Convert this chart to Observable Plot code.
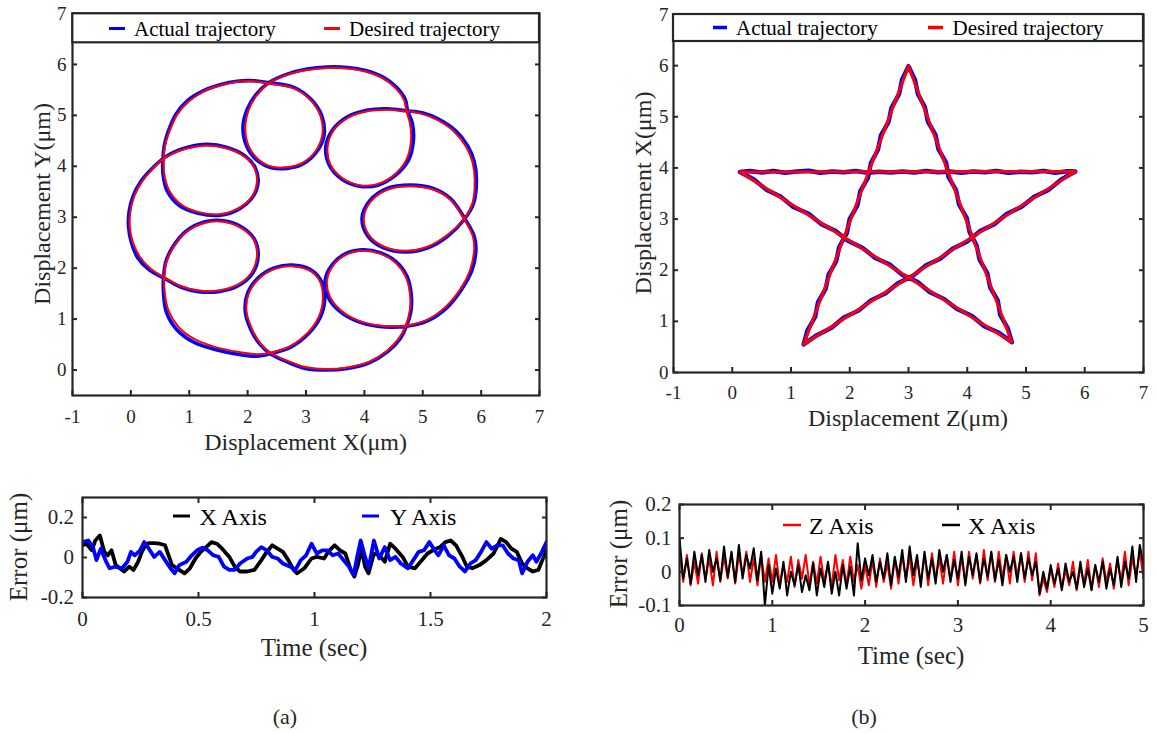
<!DOCTYPE html>
<html><head><meta charset="utf-8">
<script src="https://cdn.jsdelivr.net/npm/d3@7"></script>
<script src="https://cdn.jsdelivr.net/npm/@observablehq/plot@0.6"></script>
<style>
body{margin:0;background:#fff;}
#fig{position:relative;width:1157px;height:733px;overflow:hidden;background:#fff;font-family:"Liberation Serif","Times New Roman",serif;color:#262626;}
</style></head><body><div id="fig"></div>
<script>
// ---------- DATA ----------
// (a) top: flower trajectory, [x, y] in µm
const flowerDesired = [
[2.36,5.63],[2.11,5.67],[1.82,5.66],[1.53,5.59],[1.25,5.47],[0.99,5.27],[0.79,5.01],[0.65,4.65],[0.58,4.39],[0.56,4.15],
[0.57,3.86],[0.65,3.54],[0.85,3.26],[1.16,3.10],[1.53,3.06],[1.85,3.18],[2.08,3.41],[2.16,3.70],[2.12,3.96],[1.95,4.19],[1.65,4.35],[1.30,4.41],[0.96,4.35],[0.73,4.26],[0.56,4.15],
[0.36,3.94],[0.19,3.70],[0.06,3.42],[-0.01,3.11],[-0.02,2.82],[0.03,2.52],[0.15,2.23],[0.33,2.00],[0.57,1.82],
[0.85,1.65],[1.16,1.56],[1.50,1.56],[1.82,1.67],[2.06,1.90],[2.16,2.23],[2.11,2.55],[1.90,2.78],[1.59,2.91],[1.28,2.89],[0.96,2.72],[0.73,2.42],[0.61,2.13],[0.57,1.82],
[0.58,1.51],[0.65,1.15],[0.82,0.84],[1.10,0.60],[1.48,0.44],[1.88,0.35],[2.16,0.31],[2.39,0.34],
[2.73,0.47],[3.02,0.72],[3.22,1.05],[3.29,1.41],[3.23,1.76],[3.05,1.96],[2.76,2.04],[2.48,1.99],[2.22,1.82],[2.02,1.51],[1.98,1.15],[2.08,0.79],[2.22,0.52],[2.39,0.34],
[2.68,0.18],[2.99,0.06],[3.34,0.02],[3.71,0.05],[4.08,0.16],[4.39,0.38],[4.59,0.62],[4.71,0.87],
[4.78,1.18],[4.78,1.51],[4.71,1.83],[4.54,2.10],[4.28,2.28],[3.96,2.34],[3.68,2.26],[3.47,2.06],[3.36,1.77],[3.41,1.44],[3.59,1.18],[3.88,0.98],[4.22,0.88],[4.71,0.87],
[5.08,0.99],[5.39,1.24],[5.65,1.60],[5.81,1.96],[5.88,2.36],[5.86,2.62],[5.71,2.97],
[5.48,3.34],[5.19,3.54],[4.79,3.61],[4.39,3.54],[4.11,3.31],[3.99,2.98],[4.08,2.65],[4.34,2.42],[4.71,2.34],[5.08,2.42],[5.42,2.65],[5.71,2.97],
[5.85,3.27],[5.89,3.73],[5.85,4.09],[5.74,4.39],[5.54,4.68],[5.25,4.91],[4.99,5.03],[4.72,5.08],
[4.39,5.11],[4.05,5.08],[3.73,4.96],[3.48,4.72],[3.37,4.39],[3.42,4.03],[3.62,3.77],[3.91,3.63],[4.22,3.65],[4.51,3.83],[4.72,4.13],[4.80,4.52],[4.78,4.85],[4.72,5.08],
[4.68,5.30],[4.54,5.53],[4.31,5.73],[4.02,5.86],[3.71,5.92],[3.36,5.93],[3.02,5.89],[2.68,5.80],[2.36,5.63],
[2.16,5.40],[2.02,5.11],[1.96,4.75],[2.02,4.39],[2.19,4.13],[2.42,3.99],[2.68,3.98],[2.93,4.06],[3.16,4.29],[3.28,4.62],[3.25,4.98],[3.08,5.30],[2.79,5.53],[2.36,5.63],[2.11,5.67]
];
const flowerActual = [
[2.36,5.64],[2.11,5.68],[1.82,5.67],[1.53,5.60],[1.24,5.48],[0.97,5.29],[0.77,5.02],[0.63,4.65],[0.57,4.39],[0.55,4.15],
[0.55,3.86],[0.62,3.52],[0.83,3.23],[1.15,3.08],[1.53,3.04],[1.85,3.16],[2.09,3.40],[2.18,3.70],[2.13,3.97],[1.96,4.20],[1.65,4.37],[1.30,4.43],[0.96,4.37],[0.72,4.27],[0.55,4.15],
[0.35,3.94],[0.17,3.70],[0.04,3.42],[-0.03,3.11],[-0.04,2.82],[0.01,2.50],[0.12,2.20],[0.31,1.97],[0.56,1.81],
[0.85,1.63],[1.16,1.54],[1.50,1.54],[1.83,1.65],[2.08,1.89],[2.18,2.23],[2.12,2.56],[1.91,2.80],[1.59,2.93],[1.27,2.91],[0.95,2.73],[0.72,2.42],[0.60,2.13],[0.56,1.81],
[0.56,1.50],[0.61,1.13],[0.78,0.80],[1.07,0.55],[1.46,0.40],[1.88,0.30],[2.16,0.27],[2.39,0.32],
[2.74,0.45],[3.04,0.71],[3.25,1.05],[3.32,1.41],[3.25,1.77],[3.06,1.98],[2.76,2.06],[2.47,2.01],[2.20,1.83],[2.00,1.51],[1.96,1.15],[2.06,0.78],[2.21,0.51],[2.39,0.32],
[2.68,0.16],[2.99,0.03],[3.34,0.00],[3.71,0.03],[4.08,0.14],[4.40,0.36],[4.61,0.61],[4.72,0.86],
[4.80,1.18],[4.80,1.51],[4.73,1.84],[4.55,2.12],[4.28,2.30],[3.96,2.36],[3.67,2.28],[3.45,2.07],[3.33,1.77],[3.38,1.43],[3.57,1.16],[3.87,0.96],[4.22,0.86],[4.72,0.86],
[5.09,0.97],[5.41,1.22],[5.67,1.59],[5.84,1.95],[5.91,2.36],[5.88,2.63],[5.72,2.97],
[5.48,3.36],[5.19,3.56],[4.79,3.63],[4.38,3.56],[4.09,3.32],[3.96,2.98],[4.06,2.63],[4.33,2.40],[4.71,2.32],[5.09,2.40],[5.43,2.63],[5.72,2.97],
[5.87,3.27],[5.92,3.73],[5.88,4.10],[5.77,4.40],[5.56,4.70],[5.26,4.93],[4.99,5.05],[4.72,5.09],
[4.39,5.13],[4.04,5.10],[3.71,4.97],[3.46,4.72],[3.34,4.39],[3.40,4.02],[3.61,3.75],[3.91,3.61],[4.23,3.63],[4.53,3.82],[4.76,4.13],[4.84,4.52],[4.82,4.85],[4.74,5.09],
[4.70,5.31],[4.55,5.55],[4.32,5.75],[4.02,5.88],[3.71,5.94],[3.36,5.95],[3.02,5.91],[2.68,5.81],[2.36,5.64],
[2.14,5.40],[1.99,5.11],[1.92,4.75],[1.99,4.38],[2.17,4.11],[2.41,3.97],[2.68,3.96],[2.94,4.04],[3.18,4.28],[3.31,4.62],[3.27,4.99],[3.09,5.31],[2.79,5.55],[2.36,5.64],[2.11,5.68]
];

// (b) top: star trajectory, [Z, X] in µm
const starDesired = [[0.13,3.92],[5.84,3.93],[1.215,0.55],[3.0,5.99],[4.76,0.59],[0.13,3.92]];
const starActual = [
[0.13,3.92],[0.30,3.94],[0.50,3.91],[0.70,3.94],[0.90,3.905],[1.10,3.93],[1.30,3.945],[1.50,3.905],[1.70,3.93],[1.90,3.915],[2.10,3.94],[2.30,3.905],[2.50,3.925],[2.70,3.91],[2.90,3.93],[3.10,3.91],[3.30,3.94],[3.50,3.915],[3.70,3.93],[3.90,3.905],[4.10,3.93],[4.30,3.915],[4.50,3.94],[4.70,3.905],[4.90,3.925],[5.10,3.915],[5.30,3.94],[5.50,3.905],[5.70,3.935],[5.84,3.93],
[5.60,3.775],[5.39,3.575],[5.14,3.435],[4.925,3.24],[4.67,3.10],[4.46,2.90],[4.21,2.76],[4.00,2.56],[3.75,2.42],[3.54,2.225],[3.29,2.09],[3.075,1.89],[2.82,1.745],[2.61,1.55],[2.36,1.41],[2.15,1.21],[1.90,1.075],[1.69,0.875],[1.44,0.73],[1.215,0.55],
[1.28,0.825],[1.41,1.085],[1.46,1.375],[1.59,1.635],[1.64,1.915],[1.77,2.175],[1.82,2.455],[1.95,2.725],[2.00,3.005],[2.13,3.265],[2.18,3.545],[2.31,3.805],[2.36,4.095],[2.48,4.355],[2.53,4.635],[2.66,4.895],[2.71,5.175],[2.84,5.445],[2.89,5.725],[3.0,5.99],
[3.11,5.725],[3.16,5.445],[3.28,5.185],[3.33,4.905],[3.46,4.645],[3.51,4.365],[3.64,4.105],[3.68,3.825],[3.81,3.565],[3.86,3.285],[3.99,3.025],[4.04,2.745],[4.16,2.485],[4.21,2.205],[4.34,1.945],[4.39,1.665],[4.52,1.405],[4.56,1.125],[4.69,0.865],[4.76,0.59],
[4.54,0.775],[4.29,0.905],[4.08,1.105],[3.82,1.245],[3.61,1.435],[3.36,1.575],[3.15,1.775],[2.90,1.905],[2.69,2.105],[2.435,2.24],[2.22,2.435],[1.97,2.575],[1.76,2.765],[1.51,2.905],[1.30,3.105],[1.04,3.235],[0.83,3.435],[0.58,3.575],[0.37,3.775],[0.13,3.92]
];

// (a) bottom: tracking error, time (s) and error (µm)
const errAXTime = [0,0.017,0.040,0.055,0.075,0.094,0.109,0.125,0.143,0.179,0.202,0.220,0.240,0.256,0.271,0.286,0.309,0.333,0.356,0.371,0.386,0.417,0.440,0.463,0.487,0.510,0.533,0.556,0.579,0.602,0.633,0.656,0.679,0.710,0.741,0.771,0.794,0.818,0.841,0.864,0.887,0.910,0.925,0.956,0.987,1.010,1.041,1.064,1.087,1.110,1.133,1.156,1.172,1.187,1.202,1.218,1.233,1.256,1.279,1.303,1.326,1.349,1.380,1.403,1.433,1.457,1.487,1.510,1.541,1.564,1.587,1.610,1.634,1.657,1.680,1.711,1.741,1.772,1.803,1.826,1.849,1.872,1.895,1.918,1.941,1.965,1.988,2.0];
const errAXValue = [0.061,0.069,0.036,0.085,0.110,0.028,0.011,0.036,-0.038,-0.070,-0.046,-0.062,-0.021,0.028,0.061,0.072,0.072,0.069,0.061,0.011,-0.038,-0.062,-0.079,-0.054,-0.005,0.028,0.052,0.077,0.069,0.044,0.003,-0.046,-0.070,-0.070,-0.062,-0.013,0.028,0.061,0.044,0.028,-0.013,-0.062,-0.079,-0.054,-0.005,0.003,-0.005,0.036,0.061,0.036,0.020,-0.062,-0.095,-0.038,0.044,-0.046,-0.079,0.020,0.011,-0.021,0.069,0.044,0.003,-0.046,-0.054,-0.021,0.020,0.036,0.052,0.077,0.085,0.061,0.011,-0.046,-0.054,-0.038,-0.013,0.020,0.093,0.077,0.044,0.028,-0.030,-0.054,-0.070,-0.062,0.003,0.036];
const errAYTime = [0,0.025,0.045,0.060,0.079,0.102,0.117,0.140,0.171,0.194,0.209,0.225,0.248,0.266,0.286,0.309,0.333,0.356,0.379,0.397,0.417,0.448,0.471,0.494,0.517,0.540,0.564,0.587,0.610,0.633,0.656,0.679,0.710,0.733,0.748,0.771,0.794,0.818,0.841,0.864,0.895,0.918,0.941,0.964,0.987,1.010,1.033,1.056,1.079,1.102,1.125,1.149,1.169,1.184,1.199,1.218,1.233,1.256,1.279,1.303,1.326,1.349,1.372,1.403,1.426,1.449,1.472,1.495,1.518,1.534,1.557,1.580,1.603,1.626,1.649,1.672,1.695,1.718,1.741,1.764,1.788,1.811,1.834,1.857,1.880,1.895,1.918,1.941,1.957,1.980,2.0];
const errAYValue = [0.077,0.085,0.052,-0.013,0.044,-0.021,-0.054,-0.046,-0.054,-0.021,0.028,0.011,0.036,0.077,0.044,0.003,0.028,-0.013,-0.054,-0.079,-0.038,-0.021,0.011,0.036,0.049,0.036,0.011,0.003,-0.046,-0.062,-0.062,-0.030,-0.005,0.003,0.028,0.052,0.036,0.003,-0.005,-0.030,-0.046,-0.062,-0.013,0.011,0.069,0.020,0.036,0.036,0.011,0.020,-0.013,-0.046,-0.087,0.003,0.085,0.003,-0.054,0.085,-0.005,0.052,-0.013,0.003,-0.030,-0.054,-0.013,0.028,0.036,0.077,0.036,0.011,0.061,0.011,-0.005,-0.046,-0.070,-0.030,-0.013,0.028,0.077,0.044,0.061,0.061,0.020,-0.005,-0.013,-0.079,-0.021,0.011,-0.021,0.028,0.077];

// (b) bottom: tracking error sampled every errBStep seconds (µm)
const errBStep = 0.04;
const errBZ = [0.06,-0.03,0.05,-0.04,0.03,-0.035,0.055,-0.02,0.04,-0.04,0.06,-0.03,0.045,-0.02,0.055,-0.035,0.05,-0.01,0.06,-0.03,0.04,-0.04,0.05,-0.03,
0.04,-0.03,0.05,-0.04,0.02,-0.03,0.045,-0.045,0.035,-0.02,0.05,-0.04,0.03,-0.035,0.045,-0.03,0.025,-0.045,0.05,-0.025,0.035,-0.04,0.045,-0.03,0.02,
-0.05,0.02,-0.04,0.035,-0.045,0.04,-0.03,0.025,-0.05,0.04,-0.035,0.05,-0.02,0.045,-0.04,0.035,-0.03,0.05,-0.04,0.055,-0.02,0.04,-0.035,0.05,-0.025,0.06,-0.04,0.045,-0.03,0.06,-0.02,0.05,-0.035,0.065,-0.025,0.055,-0.03,0.06,-0.02,0.05,-0.035,0.06,-0.015,0.055,-0.03,0.06,-0.025,0.055,-0.07,
-0.02,-0.06,0.01,-0.045,0.025,-0.05,0.005,-0.04,0.03,-0.055,0.015,-0.035,0.035,-0.05,0.02,-0.045,0.04,-0.03,0.025,-0.05,0.035,-0.03,0.06,-0.04,0.04,-0.01,0.06,-0.02];
const errBX = [0.10,-0.02,0.04,-0.035,0.06,-0.01,0.05,-0.03,0.065,0.00,0.04,-0.025,0.075,-0.015,0.06,-0.03,0.08,-0.02,0.05,0.01,0.07,-0.025,0.06,-0.10,
0.02,-0.065,0.01,-0.05,0.03,-0.07,0.00,-0.04,0.02,-0.06,-0.01,-0.055,0.025,-0.07,0.01,-0.045,0.03,-0.065,0.00,-0.07,0.02,-0.05,0.015,-0.07,0.085,
-0.025,0.04,-0.01,0.05,-0.03,0.03,-0.02,0.055,-0.04,0.045,-0.015,0.065,-0.03,0.075,-0.01,0.05,-0.045,0.06,-0.02,0.04,-0.035,0.065,0.00,0.05,-0.03,0.035,-0.02,0.06,-0.04,0.045,-0.01,0.055,-0.03,0.04,-0.015,0.06,-0.025,0.035,-0.04,0.05,0.00,0.045,-0.03,0.055,-0.02,0.04,-0.01,0.03,-0.065,
0.00,-0.05,0.02,-0.035,0.01,-0.055,0.025,-0.03,0.00,-0.05,0.03,-0.045,0.01,-0.055,0.02,-0.03,0.03,-0.05,0.01,-0.04,0.045,-0.045,0.03,-0.02,0.075,-0.03,0.08,0.02];

// tick values
const ticksTopX = [-1,0,1,2,3,4,5,6,7];
const ticksTopY = [0,1,2,3,4,5,6,7];
const ticksAErrX = [0,0.5,1,1.5,2];
const ticksAErrY = [-0.2,0,0.2];
const ticksBErrX = [0,1,2,3,4,5];
const ticksBErrY = [-0.1,0,0.1,0.2];

// ---------- DRAW ----------
const FONT = '"Liberation Serif","Times New Roman",serif';
const INK = "#262626";
const fig = document.getElementById("fig");
const fmt = d => String(d);

function axes(xT, yT, xPad, yPad, fs, top) {
  const m = [
    Plot.axisX({anchor: "bottom", ticks: xT, tickSize: -5, tickPadding: xPad, tickFormat: fmt, label: null, fontSize: fs, strokeWidth: 2}),
    Plot.axisY({anchor: "left", ticks: yT, tickSize: -5, tickPadding: yPad, tickFormat: fmt, label: null, fontSize: fs, strokeWidth: 2}),
    Plot.axisY({anchor: "right", ticks: yT, tickSize: -5, tickFormat: () => "", label: null, strokeWidth: 2})
  ];
  if (top) m.push(Plot.axisX({anchor: "top", ticks: xT, tickSize: -5, tickFormat: () => "", label: null, strokeWidth: 2}));
  return m;
}
function place(svg, left, top) {
  svg.style.position = "absolute";
  svg.style.left = left + "px";
  svg.style.top = top + "px";
  svg.style.maxWidth = "none";
  fig.appendChild(svg);
}
const baseStyle = {fontFamily: FONT, color: INK, background: "transparent", overflow: "visible"};
const pt = {x: d => d[0], y: d => d[1]};

// Panel (a) top
place(Plot.plot({
  width: 560, height: 470, marginLeft: 72, marginRight: 21, marginTop: 13, marginBottom: 75,
  x: {domain: [-1, 7]}, y: {domain: [-0.5, 7]}, style: baseStyle,
  marks: [
    Plot.line(flowerActual, {...pt, stroke: "#0000ff", strokeWidth: 3.6, curve: "catmull-rom"}),
    Plot.line(flowerDesired, {...pt, stroke: "#ff0000", strokeWidth: 2, curve: "catmull-rom"}),
    ...axes(ticksTopX, ticksTopY, 19, 11, 19, false),
    Plot.frame({stroke: INK, strokeWidth: 2.2})
  ]
}), 0, 0);

// Panel (b) top
place(Plot.plot({
  width: 557, height: 470, marginLeft: 73, marginRight: 14, marginTop: 14, marginBottom: 98,
  x: {domain: [-1, 7]}, y: {domain: [0, 7]}, style: baseStyle,
  marks: [
    Plot.line(starActual, {...pt, stroke: "#0000ff", strokeWidth: 4.4}),
    Plot.line(starDesired, {...pt, stroke: "#ff0000", strokeWidth: 3}),
    ...axes(ticksTopX, ticksTopY, 17.5, 10, 19, false),
    Plot.frame({stroke: INK, strokeWidth: 2.2})
  ]
}), 600, 0);

// Panel (a) bottom
const errAX = errAXTime.map((t, i) => ({t, v: errAXValue[i]}));
const errAY = errAYTime.map((t, i) => ({t, v: errAYValue[i]}));
place(Plot.plot({
  width: 560, height: 200, marginLeft: 82, marginRight: 14, marginTop: 27, marginBottom: 73,
  x: {domain: [0, 2]}, y: {domain: [-0.2, 0.3]}, style: baseStyle,
  marks: [
    Plot.line(errAX, {x: "t", y: "v", stroke: "#000000", strokeWidth: 3.8, clip: true}),
    Plot.line(errAY, {x: "t", y: "v", stroke: "#0000ff", strokeWidth: 3.8, clip: true}),
    ...axes(ticksAErrX, ticksAErrY, 19, 13.5, 21, true),
    Plot.frame({stroke: INK, strokeWidth: 2.2})
  ]
}), 0, 470);

// Panel (b) bottom
const errBZData = errBZ.map((v, i) => ({t: i * errBStep, v}));
const errBXData = errBX.map((v, i) => ({t: i * errBStep, v}));
place(Plot.plot({
  width: 567, height: 200, marginLeft: 89, marginRight: 14, marginTop: 34, marginBottom: 65,
  x: {domain: [0, 5]}, y: {domain: [-0.1, 0.2]}, style: baseStyle,
  marks: [
    Plot.line(errBZData, {x: "t", y: "v", stroke: "#ff0000", strokeWidth: 2, clip: true}),
    Plot.line(errBXData, {x: "t", y: "v", stroke: "#000000", strokeWidth: 2, clip: true}),
    ...axes(ticksBErrX, ticksBErrY, 16.5, 13, 21, true),
    Plot.frame({stroke: INK, strokeWidth: 2.2})
  ]
}), 590, 470);

// ---------- overlay: legends, titles, captions ----------
const ov = d3.select(fig).append("svg")
  .attr("width", 1157).attr("height", 733)
  .style("position", "absolute").style("left", "0px").style("top", "0px")
  .style("font-family", FONT).style("pointer-events", "none");

function txt(x, y, s, size, anchor = "middle", rotate = false, fill = INK) {
  ov.append("text").attr("x", x).attr("y", y).attr("font-size", size)
    .attr("text-anchor", anchor).attr("dominant-baseline", "central").attr("fill", fill)
    .attr("transform", rotate ? `rotate(-90 ${x} ${y})` : null).text(s);
}
function seg(x1, x2, y, color, w) {
  ov.append("line").attr("x1", x1).attr("x2", x2).attr("y1", y).attr("y2", y)
    .attr("stroke", color).attr("stroke-width", w);
}
// legend (a) top
ov.append("rect").attr("x", 72.3).attr("y", 13.3).attr("width", 466.7).attr("height", 29)
  .attr("fill", "#fff").attr("stroke", INK).attr("stroke-width", 2.2);
seg(109, 125, 28.5, "#0000ff", 3); txt(134, 28.5, "Actual trajectory", 21, "start", false, "#000");
seg(324, 340, 28.5, "#ff0000", 3); txt(349, 28.5, "Desired trajectory", 21, "start", false, "#000");
// legend (b) top
ov.append("rect").attr("x", 673).attr("y", 14).attr("width", 470).attr("height", 27)
  .attr("fill", "#fff").attr("stroke", INK).attr("stroke-width", 2.2);
seg(713, 727, 27.5, "#0000ff", 3.5); txt(736, 27.5, "Actual trajectory", 21, "start", false, "#000");
seg(928, 943, 27.5, "#ff0000", 3.5); txt(952.5, 27.5, "Desired trajectory", 21, "start", false, "#000");
// legend (a) bottom
seg(173, 190, 516, "#000000", 3); txt(199.6, 516.5, "X Axis", 24, "start", false, "#000");
seg(362, 379, 516, "#0000ff", 3); txt(390, 516.5, "Y Axis", 24, "start", false, "#000");
// legend (b) bottom
seg(783, 801, 525, "#ff0000", 2.5); txt(809, 525.5, "Z Axis", 24, "start", false, "#000");
seg(942, 960, 525, "#000000", 2.5); txt(968, 525.5, "X Axis", 24, "start", false, "#000");

// axis titles
txt(305.6, 441.7, "Displacement X(μm)", 24);
txt(42, 204, "Displacement Y(μm)", 24, "middle", true);
txt(908, 418, "Displacement Z(μm)", 24);
txt(643, 193, "Displacement X(μm)", 24, "middle", true);
txt(314, 647, "Time (sec)", 25);
txt(18, 547, "Error (μm)", 25, "middle", true);
txt(911, 655, "Time (sec)", 25);
txt(618, 554, "Error (μm)", 25, "middle", true);
// captions
txt(285, 716, "(a)", 22);
txt(864, 716, "(b)", 22);
</script></body></html>
